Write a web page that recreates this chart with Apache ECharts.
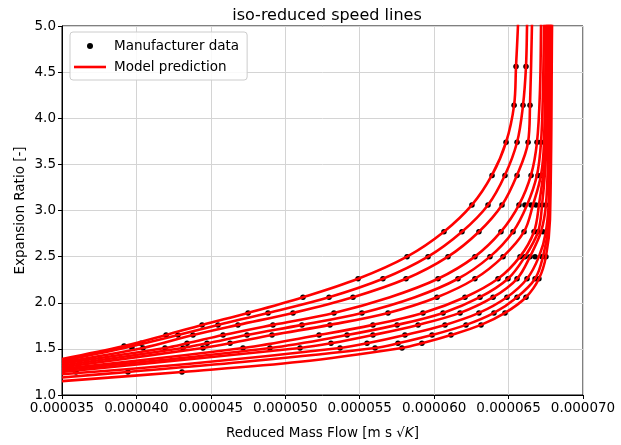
<!DOCTYPE html>
<html>
<head>
<meta charset="utf-8">
<script src="https://cdn.jsdelivr.net/npm/echarts@6/dist/echarts.min.js"></script>
<style>html,body{margin:0;padding:0;background:#fff}#c{width:621px;height:445px}</style>
</head>
<body>
<div id="c"></div>
<script>
// x values in units of 1e-6 (reduced mass flow), y = expansion ratio
const X_UNIT = 1e-6;
const xTicks = [35, 40, 45, 50, 55, 60, 65, 70];
const yTicks = [1.0, 1.5, 2.0, 2.5, 3.0, 3.5, 4.0, 4.5, 5.0];

const manufacturerData = [
  [65.50,4.56],[66.17,4.56],
  [65.37,4.14],[65.97,4.14],[66.44,4.14],
  [64.83,3.74],[65.57,3.74],[66.31,3.74],[66.91,3.74],[67.18,3.74],
  [63.89,3.38],[64.76,3.38],[65.57,3.38],[66.51,3.38],[66.98,3.38],[67.25,3.38],
  [62.54,3.06],[63.62,3.06],[64.56,3.06],[65.70,3.06],[66.10,3.06],[66.51,3.06],[66.84,3.06],[67.25,3.06],[67.51,3.06],
  [60.66,2.77],[61.87,2.77],[63.01,2.77],[64.49,2.77],[65.30,2.77],[66.04,2.77],[66.71,2.77],[66.98,2.77],[67.31,2.77],[67.58,2.77],
  [58.18,2.50],[59.59,2.50],[60.93,2.50],[62.74,2.50],[63.75,2.50],[64.63,2.50],[65.77,2.50],[66.10,2.50],[66.44,2.50],[66.78,2.50],[67.25,2.50],[67.51,2.50],
  [54.89,2.26],[56.56,2.26],[58.11,2.26],[60.26,2.26],[61.60,2.26],[62.74,2.26],[64.29,2.26],[64.96,2.26],[65.57,2.26],[66.24,2.26],[66.78,2.26],[67.04,2.26],
  [51.19,2.06],[52.94,2.06],[54.55,2.06],[60.19,2.06],[62.07,2.06],[63.08,2.06],[63.96,2.06],[64.89,2.06],[65.57,2.06],[66.17,2.06],
  [47.50,1.89],[48.84,1.89],[50.52,1.89],[53.27,1.89],[55.15,1.89],[56.90,1.89],[59.25,1.89],[60.60,1.89],[61.74,1.89],[63.01,1.89],[64.02,1.89],[64.76,1.89],
  [44.41,1.76],[45.48,1.76],[46.82,1.76],[49.17,1.76],[51.12,1.76],[53.00,1.76],[55.89,1.76],[57.51,1.76],[58.92,1.76],[60.73,1.76],[62.14,1.76],[63.15,1.76],
  [41.99,1.65],[42.79,1.65],[43.80,1.65],[45.82,1.65],[47.43,1.65],[49.11,1.65],[52.27,1.65],[54.15,1.65],[55.89,1.65],[58.04,1.65],[59.86,1.65],[61.13,1.65],
  [40.31,1.56],[43.40,1.56],[44.74,1.56],[46.29,1.56],[53.07,1.56],[55.49,1.56],[57.57,1.56],[59.18,1.56],
  [39.17,1.53],[39.70,1.51],[40.44,1.51],[41.92,1.51],[43.13,1.51],[44.47,1.51],[47.16,1.51],[48.97,1.51],[50.99,1.51],[53.68,1.51],[56.03,1.51],[57.84,1.51],
  [35.94,1.25],[39.43,1.25],[43.06,1.25]
];

const speedLine1 = [[35.00,1.39],[39.17,1.53],[41.99,1.65],[44.41,1.76],[47.50,1.89],[51.19,2.06],[54.89,2.26],[58.18,2.50],[60.66,2.77],[62.54,3.06],[63.89,3.385],[64.83,3.74],[65.37,4.14],[65.50,4.56],[65.63,5.0],[65.70,5.4]];
const speedLine2 = [[35.00,1.37],[39.70,1.53],[42.79,1.65],[45.48,1.76],[48.84,1.89],[52.94,2.06],[56.56,2.26],[59.59,2.50],[61.87,2.77],[63.62,3.06],[64.76,3.385],[65.57,3.74],[65.97,4.14],[66.17,4.56],[66.24,5.0],[66.28,5.4]];
const speedLine3 = [[35.00,1.355],[40.44,1.51],[43.80,1.65],[46.82,1.76],[50.52,1.89],[54.55,2.06],[58.11,2.26],[60.93,2.50],[63.01,2.77],[64.56,3.06],[65.57,3.385],[66.31,3.74],[66.44,4.14],[66.57,5.0],[66.60,5.4]];
const speedLine4 = [[35.00,1.34],[41.92,1.51],[43.40,1.56],[45.82,1.65],[49.17,1.76],[53.27,1.89],[57.03,2.06],[60.26,2.26],[62.74,2.50],[64.49,2.77],[65.70,3.06],[66.51,3.385],[66.91,3.74],[67.11,4.3],[67.18,5.0],[67.20,5.4]];
const speedLine5 = [[35.00,1.32],[43.13,1.51],[44.74,1.56],[47.43,1.65],[51.12,1.76],[55.15,1.89],[58.71,2.06],[61.60,2.26],[63.75,2.50],[65.30,2.77],[66.24,3.06],[66.91,3.385],[67.18,3.74],[67.31,4.3],[67.38,5.0],[67.40,5.4]];
const speedLine6 = [[35.00,1.30],[44.47,1.51],[46.29,1.56],[49.11,1.65],[53.00,1.76],[56.90,1.89],[60.19,2.06],[62.74,2.26],[64.63,2.50],[66.04,2.77],[66.64,3.06],[67.18,3.385],[67.38,3.74],[67.51,5.0],[67.53,5.4]];
const speedLine7 = [[35.00,1.285],[47.16,1.51],[52.27,1.65],[55.89,1.76],[59.25,1.89],[62.07,2.06],[64.29,2.26],[65.77,2.50],[66.71,2.77],[67.04,3.06],[67.45,3.6],[67.58,5.0],[67.60,5.4]];
const speedLine8 = [[35.00,1.27],[48.97,1.51],[54.15,1.65],[57.51,1.76],[60.60,1.89],[63.08,2.06],[64.96,2.26],[66.10,2.50],[66.98,2.77],[67.25,3.06],[67.51,3.6],[67.65,5.0],[67.67,5.4]];
const speedLine9 = [[35.00,1.25],[50.99,1.51],[53.07,1.56],[55.89,1.65],[58.92,1.76],[61.74,1.89],[63.96,2.06],[65.57,2.26],[66.44,2.50],[67.18,2.77],[67.51,3.06],[67.65,3.6],[67.72,5.0],[67.74,5.4]];
const speedLine10 = [[35.00,1.225],[44.27,1.35],[53.68,1.51],[55.49,1.56],[58.04,1.65],[60.73,1.76],[63.01,1.89],[64.89,2.06],[66.24,2.26],[67.04,2.50],[67.51,2.77],[67.72,3.2],[67.78,5.0],[67.80,5.4]];
const speedLine11 = [[35.00,1.19],[39.43,1.25],[47.63,1.365],[56.03,1.51],[57.57,1.56],[59.86,1.65],[62.14,1.76],[64.02,1.89],[65.57,2.06],[66.78,2.26],[67.31,2.50],[67.72,2.9],[67.85,5.0],[67.87,5.4]];
const speedLine12 = [[35.00,1.15],[43.06,1.25],[50.99,1.36],[57.84,1.51],[59.18,1.56],[61.13,1.65],[63.15,1.76],[64.76,1.89],[66.17,2.06],[67.04,2.26],[67.51,2.50],[67.78,2.9],[67.92,5.0],[67.94,5.4]];

const speedLines = [speedLine1, speedLine2, speedLine3, speedLine4, speedLine5, speedLine6,
  speedLine7, speedLine8, speedLine9, speedLine10, speedLine11, speedLine12];

const FONT = 'DejaVu Sans';
const chart = echarts.init(document.getElementById('c'), null, {renderer: 'canvas'});

const series = [{
  name: 'Manufacturer data',
  type: 'scatter',
  data: manufacturerData,
  symbol: 'circle',
  symbolSize: 5.5,
  itemStyle: {color: '#000', opacity: 1},
  z: 2,
  silent: true
}];
speedLines.forEach(function (d) {
  series.push({
    name: 'Model prediction',
    type: 'line',
    data: d,
    showSymbol: false,
    symbol: 'none',
    smooth: 0.35,
    lineStyle: {color: '#ff0000', width: 2.6},
    itemStyle: {color: '#ff0000'},
    z: 3,
    clip: true,
    silent: true
  });
});

chart.setOption({
  animation: false,
  backgroundColor: '#fff',
  textStyle: {fontFamily: FONT},
  title: {
    text: 'iso-reduced speed lines',
    left: 322, top: 3, textAlign: 'center',
    textStyle: {fontFamily: FONT, fontSize: 16, fontWeight: 'normal', color: '#000'}
  },
  legend: {
    left: 70, top: 32,
    orient: 'vertical',
    itemWidth: 32, itemHeight: 6, itemGap: 7,
    padding: [7, 8, 6, 4],
    backgroundColor: 'rgba(255,255,255,0.85)',
    borderColor: '#cccccc', borderWidth: 1, borderRadius: 3,
    textStyle: {fontFamily: FONT, fontSize: 13.5, color: '#000', padding: [0, 0, 0, 3]},
    data: [
      {name: 'Manufacturer data', icon: 'circle', itemStyle: {color: '#000', opacity: 1}},
      {name: 'Model prediction', icon: 'path://M0,0L32,0L32,2.6L0,2.6Z', itemStyle: {color: '#ff0000'}}
    ]
  },
  grid: {left: 62, right: 38, top: 26, bottom: 50, show: true, borderColor: '#000', borderWidth: 1, backgroundColor: 'transparent'},
  xAxis: {
    type: 'value', min: xTicks[0], max: xTicks[xTicks.length - 1], interval: 5,
    name: 'Reduced Mass Flow [m s {r|√}{k|K}]',
    nameLocation: 'middle', nameGap: 31,
    nameTextStyle: {fontFamily: FONT, fontSize: 13.5, color: '#000',
      rich: {r: {fontFamily: FONT, fontSize: 13.5, color: '#000'}, k: {fontFamily: FONT, fontSize: 13.5, fontStyle: 'italic', color: '#000'}}},
    axisLine: {show: true, lineStyle: {color: '#000', width: 1}},
    axisTick: {show: true, length: 4, lineStyle: {color: '#000'}},
    axisLabel: {fontFamily: FONT, fontSize: 13.5, color: '#000', margin: 6,
      formatter: function (v) { return (v * X_UNIT).toFixed(6); }},
    splitLine: {show: true, lineStyle: {color: '#d4d4d4', width: 1}}
  },
  yAxis: {
    type: 'value', min: yTicks[0], max: yTicks[yTicks.length - 1], interval: 0.5,
    name: 'Expansion Ratio [-]',
    nameLocation: 'middle', nameGap: 42, nameRotate: 90, nameMoveOverlap: false,
    nameTextStyle: {fontFamily: FONT, fontSize: 13.5, color: '#000', verticalAlign: 'middle'},
    axisLine: {show: true, lineStyle: {color: '#000', width: 1}},
    axisTick: {show: true, length: 4, lineStyle: {color: '#000'}},
    axisLabel: {fontFamily: FONT, fontSize: 13.5, color: '#000', margin: 6,
      formatter: function (v) { return v.toFixed(1); }},
    splitLine: {show: true, lineStyle: {color: '#d4d4d4', width: 1}}
  },
  series: series
});
</script>
</body>
</html>
